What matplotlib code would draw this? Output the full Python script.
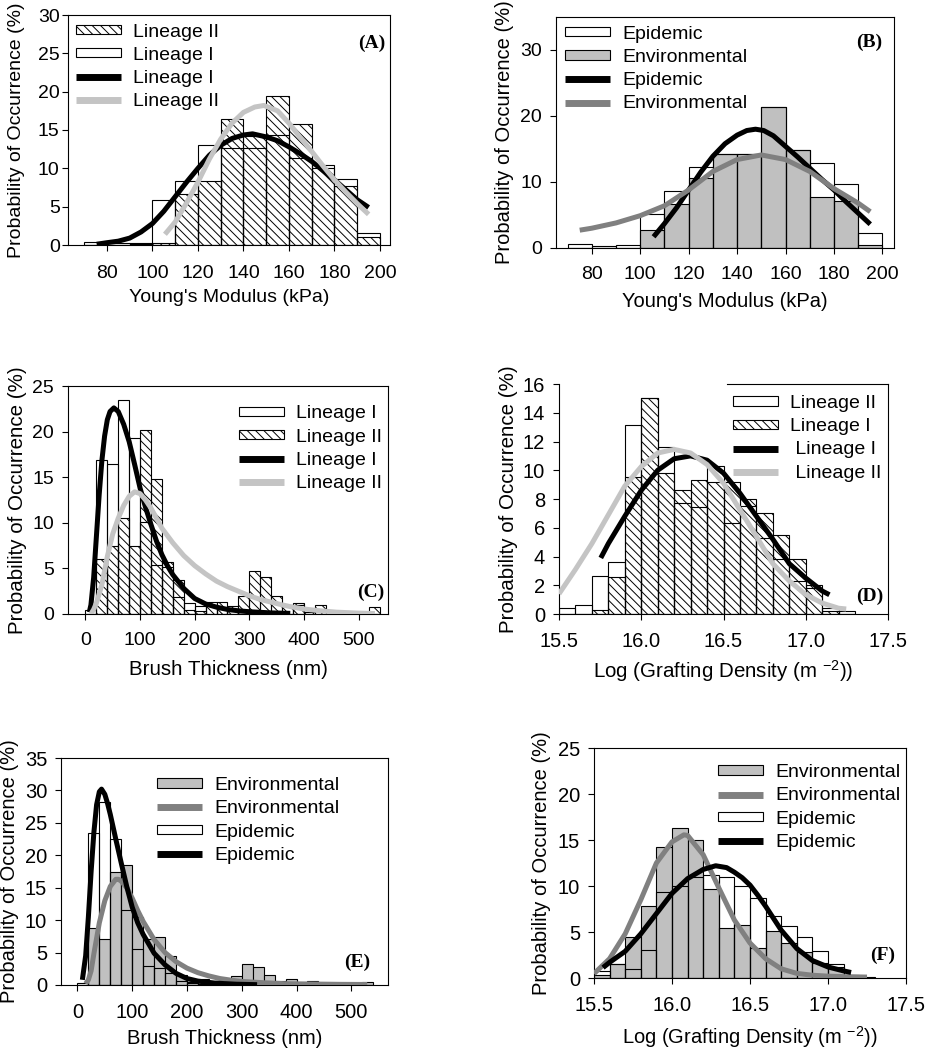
import matplotlib
matplotlib.use('Agg')
import matplotlib.pyplot as plt
from matplotlib.patches import Patch
from matplotlib.lines import Line2D

plt.rcParams['font.family'] = ['Liberation Sans', 'DejaVu Sans']
plt.rcParams['hatch.linewidth'] = 0.7
plt.rcParams['mathtext.fontset'] = 'custom'
plt.rcParams['mathtext.rm'] = 'Liberation Sans'
plt.rcParams['mathtext.it'] = 'Liberation Sans:italic'

# ---------------- data ----------------
# (A) Young's modulus, lineage I (open) / lineage II (hatched)
ym_bins = [70, 80, 90, 100, 110, 120, 130, 140, 150, 160, 170, 180, 190]
a_lin1 = [0.4, 0.2, 0.2, 5.9, 8.4, 13.1, 12.6, 12.7, 14.3, 11.4, 10.4, 8.6, 1.6]
a_lin2 = [0.0, 0.0, 0.1, 0.2, 6.6, 8.4, 16.4, 14.2, 19.5, 15.8, 10.1, 7.7, 1.0]
a_fit1_x = [75.5, 80, 85, 90, 95, 100, 105, 110, 115, 120, 125, 130, 135, 140, 144,
            150, 155, 160, 165, 170, 175, 180, 185, 190, 195]
a_fit1_y = [0.1, 0.3, 0.5, 0.9, 1.7, 2.8, 4.4, 6.3, 8.2, 10.0, 11.7, 13.0, 13.9, 14.35, 14.5,
            14.1, 13.6, 12.8, 11.9, 10.9, 9.7, 8.5, 7.2, 5.9, 4.9]
a_fit2_x = [105.5, 110, 115, 120, 125, 130, 135, 140, 145, 149, 155, 160, 165, 170, 175,
            180, 185, 190, 195]
a_fit2_y = [1.4, 3.0, 5.5, 8.2, 11.2, 13.8, 15.9, 17.3, 18.0, 18.2, 17.5, 15.9, 14.0, 12.2, 10.3,
            8.5, 6.9, 5.4, 4.0]

# (B) Young's modulus, epidemic (open) / environmental (grey)
b_epi = [0.6, 0.3, 0.4, 5.2, 8.7, 12.3, 14.2, 14.2, 21.4, 14.9, 12.85, 9.7, 2.3]
b_env = [0.0, 0.0, 0.0, 2.8, 6.6, 10.6, 14.2, 14.2, 21.4, 14.9, 7.8, 7.1, 0.4]
b_fit_epi_x = [105.5, 110, 115, 120, 125, 130, 135, 140, 144, 147.6, 151, 155, 160, 165, 170,
               175, 180, 185, 190, 195]
b_fit_epi_y = [1.7, 3.7, 6.1, 8.8, 11.5, 13.9, 15.8, 17.1, 17.8, 18.0, 17.8, 17.0, 15.4, 13.8,
               12.1, 10.4, 8.8, 7.0, 5.3, 3.6]
b_fit_env_x = [75, 80, 90, 100, 110, 120, 130, 140, 150, 160, 170, 180, 190, 195]
b_fit_env_y = [2.7, 3.0, 3.8, 4.9, 6.4, 8.8, 11.6, 13.4, 14.1, 13.4, 11.6, 9.0, 6.8, 5.5]

# (C) brush thickness, lineage I (open) / lineage II (hatched)
bt_bins = [0, 20, 40, 60, 80, 100, 120, 140, 160, 180, 200, 220, 240, 260, 280, 300,
           320, 340, 360, 380, 400, 420, 440, 460, 480, 500, 520]
c_lin1 = [0.4, 16.9, 16.4, 23.5, 19.3, 10.1, 5.4, 5.2, 1.9, 1.25, 0.9, 1.0, 0.5, 0.3, 0.2, 0.0,
          0.0, 0.0, 0.0, 1.0, 0.0, 0.0, 0.0, 0.0, 0.0, 0.0, 0.0]
c_lin2 = [0.0, 6.0, 7.5, 10.5, 7.5, 20.2, 14.8, 5.7, 3.7, 0.4, 0.3, 1.3, 1.3, 0.9, 2.0, 4.7,
          4.1, 2.0, 1.0, 1.2, 0.2, 1.0, 0.2, 0.0, 0.0, 0.0, 0.8]
c_fit1_x = [7, 10, 15, 20, 25, 30, 35, 40, 45, 52, 60, 70, 80, 90, 100, 110, 120, 130, 140,
            150, 160, 180, 200, 220, 240, 260, 280, 300, 340, 375]
c_fit1_y = [0.2, 1.0, 4.0, 8.5, 13.0, 16.8, 19.5, 21.3, 22.2, 22.6, 22.2, 20.8, 18.9, 16.4, 13.8,
            11.7, 9.8, 8.0, 6.5, 5.3, 4.3, 2.8, 1.7, 1.1, 0.75, 0.5, 0.35, 0.25, 0.12, 0.07]
c_fit2_x = [10, 15, 20, 30, 40, 50, 60, 70, 80, 90, 100, 110, 120, 140, 160, 180, 200, 220,
            240, 260, 280, 300, 320, 340, 360, 380, 400, 430, 460, 500, 530]
c_fit2_y = [0.0, 0.5, 1.2, 3.2, 6.3, 8.8, 10.5, 11.9, 12.9, 13.4, 13.2, 12.5, 11.6, 9.4, 7.8,
            6.4, 5.3, 4.4, 3.6, 3.0, 2.5, 2.0, 1.6, 1.3, 1.0, 0.75, 0.55, 0.35, 0.2, 0.1, 0.05]

# (D) log grafting density, lineage II (open) / lineage I (hatched)
gd_bins = [15.5, 15.6, 15.7, 15.8, 15.9, 16.0, 16.1, 16.2, 16.3, 16.4, 16.5, 16.6, 16.7,
           16.8, 16.9, 17.0, 17.1, 17.2]
d_lin2 = [0.42, 0.6, 2.66, 3.6, 13.15, 15.0, 11.65, 7.7, 7.45, 10.3, 6.3, 7.5, 5.3, 3.8,
          2.3, 1.8, 0.4, 0.2]
d_lin1 = [0.0, 0.0, 0.3, 2.55, 9.5, 15.0, 9.8, 8.6, 9.3, 9.2, 9.15, 8.0, 7.0, 5.5, 3.85,
          2.0, 0.2, 0.0]
d_fit1_x = [15.754, 15.8, 15.9, 16.0, 16.1, 16.2, 16.3, 16.4, 16.5, 16.6, 16.7, 16.8, 16.9,
            17.0, 17.1, 17.144]
d_fit1_y = [3.9, 4.9, 6.8, 8.6, 10.0, 10.8, 11.0, 10.7, 9.8, 8.4, 6.8, 5.2, 3.5, 2.5, 1.6, 1.34]
d_fit2_x = [15.5, 15.6, 15.7, 15.8, 15.9, 16.0, 16.1, 16.2, 16.3, 16.4, 16.5, 16.6, 16.7,
            16.8, 16.9, 17.0, 17.1, 17.2, 17.246]
d_fit2_y = [1.4, 3.1, 4.9, 6.9, 8.9, 10.25, 11.2, 11.45, 11.2, 10.4, 9.1, 7.25, 5.4, 3.5,
            2.3, 1.35, 0.76, 0.4, 0.35]

# (E) brush thickness, environmental (grey) / epidemic (open)
e_env = [0.0, 8.75, 7.05, 17.35, 18.5, 10.55, 7.05, 7.35, 4.4, 1.5, 0.5, 0.9, 0.6, 0.5, 1.4,
         3.2, 2.8, 1.5, 0.6, 0.9, 0.25, 0.6, 0.2, 0.1, 0.1, 0.1, 0.5]
e_epi = [0.3, 23.4, 28.2, 22.5, 11.5, 5.5, 2.9, 2.6, 1.8, 0.6, 0.3, 0.2, 0.1, 0.0, 0.0, 0.0,
         0.0, 0.0, 0.0, 0.0, 0.0, 0.0, 0.0, 0.0, 0.0, 0.0, 0.0]
e_fit_epi_x = [9, 15, 20, 25, 30, 35, 40, 44, 50, 55, 60, 70, 80, 90, 100, 110, 120, 140, 160,
               180, 200, 220, 250, 290, 328]
e_fit_epi_y = [0.8, 4.5, 10.5, 17.5, 23.5, 27.8, 29.8, 30.2, 29.4, 28.0, 26.3, 22.5, 18.8, 15.2,
               12.0, 9.6, 7.8, 4.9, 3.1, 1.8, 1.0, 0.6, 0.3, 0.12, 0.05]
e_fit_env_x = [15, 20, 25, 30, 40, 50, 60, 70, 75, 80, 90, 100, 110, 120, 140, 160, 180, 200,
               220, 240, 260, 280, 300, 340, 380, 430, 480, 529]
e_fit_env_y = [0.2, 0.8, 2.2, 4.8, 9.6, 13.0, 15.2, 16.3, 16.3, 16.0, 15.0, 13.4, 11.5, 9.8,
               7.0, 5.0, 3.6, 2.6, 1.9, 1.4, 1.0, 0.75, 0.55, 0.35, 0.2, 0.15, 0.1, 0.08]

# (F) log grafting density, environmental (grey) / epidemic (open)
f_env = [0.3, 1.56, 4.5, 7.8, 14.2, 16.3, 15.0, 9.7, 5.4, 5.8, 3.3, 5.1, 3.8, 2.8, 1.6, 1.2,
         0.35, 0.15]
f_epi = [0.8, 1.5, 1.0, 3.0, 9.3, 10.0, 11.0, 11.2, 11.0, 10.0, 8.75, 6.7, 5.6, 4.5, 2.9,
         1.57, 0.2, 0.0]
f_fit_env_x = [15.5, 15.6, 15.7, 15.8, 15.9, 16.0, 16.076, 16.1, 16.2, 16.3, 16.4, 16.5, 16.6,
               16.7, 16.8, 16.9, 17.0, 17.1, 17.25]
f_fit_env_y = [0.47, 2.1, 4.8, 8.5, 12.5, 14.8, 15.56, 15.5, 13.4, 9.8, 6.3, 3.8, 2.1, 1.0,
               0.5, 0.3, 0.2, 0.15, 0.1]
f_fit_epi_x = [15.558, 15.6, 15.7, 15.8, 15.9, 16.0, 16.1, 16.2, 16.28, 16.35, 16.4, 16.45,
               16.5, 16.55, 16.6, 16.7, 16.8, 16.9, 17.0, 17.1, 17.148]
f_fit_epi_y = [1.13, 1.7, 2.9, 4.8, 7.0, 9.2, 10.8, 11.8, 12.2, 12.0, 11.5, 10.9, 10.1, 9.0,
               7.8, 5.2, 3.2, 1.9, 1.2, 0.77, 0.6]

# ---------------- styles ----------------
HATCH = '\\\\\\\\'
BAR_GREY = '#c0c0c0'
LIGHT_LINE = '#c4c4c4'
MID_LINE = '#808080'
LW = 3.6
EDGE_LW = 0.8


def open_bars(ax, x, h, w):
    ax.bar(x, h, width=w, align='edge', facecolor='none', edgecolor='black',
           linewidth=EDGE_LW, zorder=3)


def hatch_bars(ax, x, h, w):
    ax.bar(x, h, width=w, align='edge', facecolor='none', edgecolor='black',
           hatch=HATCH, linewidth=EDGE_LW, zorder=3)


def grey_bars(ax, x, h, w):
    ax.bar(x, h, width=w, align='edge', facecolor=BAR_GREY, edgecolor='black',
           linewidth=EDGE_LW, zorder=2)


def fit_line(ax, x, y, c):
    ax.plot(x, y, color=c, lw=LW, solid_capstyle='butt', solid_joinstyle='round', zorder=4)


def h_open(label):
    return Patch(facecolor='white', edgecolor='black', linewidth=EDGE_LW, label=label)


def h_hatch(label):
    return Patch(facecolor='white', edgecolor='black', hatch=HATCH, linewidth=EDGE_LW, label=label)


def h_grey(label):
    return Patch(facecolor=BAR_GREY, edgecolor='black', linewidth=EDGE_LW, label=label)


def h_line(label, c):
    return Line2D([], [], color=c, lw=5, solid_capstyle='butt', label=label)


def style(ax, xlim, ylim, xticks, yticks, xlabel, tag, tagpos, leg, legpos,
          xfmt=None, xlab_y=-0.19, ylab_x=-0.13, fs_tick=14, fs_lab=14.5,
          xpad=9, ypad=6):
    ax.set_xlim(xlim)
    ax.set_ylim(ylim)
    ax.set_xticks(xticks)
    ax.set_yticks(yticks)
    if xfmt:
        ax.set_xticklabels([xfmt % t for t in xticks])
    ax.tick_params(direction='out', length=4, width=0.8, labelsize=fs_tick, top=False, right=False)
    ax.tick_params(axis='x', pad=xpad)
    ax.tick_params(axis='y', pad=ypad)
    for s in ax.spines.values():
        s.set_linewidth(0.8)
    ax.set_xlabel(xlabel, fontsize=fs_lab)
    ax.set_ylabel('Probability of Occurrence (%)', fontsize=fs_lab)
    ax.xaxis.set_label_coords(0.5, xlab_y)
    ax.yaxis.set_label_coords(ylab_x, 0.5)
    ax.text(tagpos[0], tagpos[1], tag, transform=ax.transAxes, ha='right', va='center',
            fontsize=14, fontweight='bold', family='Liberation Serif')
    ax.legend(handles=leg, loc='upper left', bbox_to_anchor=legpos, frameon=False,
              fontsize=14, handlelength=2.3, handleheight=0.36, handletextpad=0.65,
              labelspacing=0.32, borderpad=0, borderaxespad=0)


def pos(l, t, r, b):
    return [l / 925, 1 - b / 1050, (r - l) / 925, (b - t) / 1050]


fig = plt.figure(figsize=(9.25, 10.5), dpi=100)

# (A)
ax = fig.add_axes(pos(68, 15, 390, 245))
open_bars(ax, ym_bins, a_lin1, 10)
hatch_bars(ax, ym_bins, a_lin2, 10)
fit_line(ax, a_fit1_x, a_fit1_y, 'black')
fit_line(ax, a_fit2_x, a_fit2_y, LIGHT_LINE)
style(ax, (62.9, 204.4), (0, 30), [80, 100, 120, 140, 160, 180, 200], [0, 5, 10, 15, 20, 25, 30],
      "Young's Modulus (kPa)", '(A)', (0.985, 0.878),
      [h_hatch('Lineage II'), h_open('Lineage I'), h_line('Lineage I', 'black'),
       h_line('Lineage II', LIGHT_LINE)], (0.025, 0.963),
      xlab_y=-0.19, ylab_x=-0.132, fs_tick=14, fs_lab=14, xpad=10.5, ypad=2)

# (B)
ax = fig.add_axes(pos(556, 17, 894, 248))
grey_bars(ax, ym_bins, b_env, 10)
open_bars(ax, ym_bins, b_epi, 10)
fit_line(ax, b_fit_epi_x, b_fit_epi_y, 'black')
fit_line(ax, b_fit_env_x, b_fit_env_y, MID_LINE)
style(ax, (65.2, 204.8), (0, 35), [80, 100, 120, 140, 160, 180, 200], [0, 10, 20, 30],
      "Young's Modulus (kPa)", '(B)', (0.964, 0.89),
      [h_open('Epidemic'), h_grey('Environmental'), h_line('Epidemic', 'black'),
       h_line('Environmental', MID_LINE)], (0.027, 0.962),
      xlab_y=-0.19, ylab_x=-0.124, fs_tick=14, fs_lab=14.5)

# (C)
ax = fig.add_axes(pos(68, 386, 388, 614))
open_bars(ax, bt_bins, c_lin1, 20)
hatch_bars(ax, bt_bins, c_lin2, 20)
fit_line(ax, c_fit1_x, c_fit1_y, 'black')
fit_line(ax, c_fit2_x, c_fit2_y, LIGHT_LINE)
style(ax, (-32, 554), (0, 25), [0, 100, 200, 300, 400, 500], [0, 5, 10, 15, 20, 25],
      'Brush Thickness (nm)', '(C)', (0.99, 0.094),
      [h_open('Lineage I'), h_hatch('Lineage II'), h_line('Lineage I', 'black'),
       h_line('Lineage II', LIGHT_LINE)], (0.534, 0.915),
      xlab_y=-0.2, ylab_x=-0.128, fs_tick=14, fs_lab=14.8)

# (D)
ax = fig.add_axes(pos(559, 384, 888, 614))
open_bars(ax, gd_bins, d_lin2, 0.1)
hatch_bars(ax, gd_bins, d_lin1, 0.1)
fit_line(ax, d_fit1_x, d_fit1_y, 'black')
fit_line(ax, d_fit2_x, d_fit2_y, LIGHT_LINE)
style(ax, (15.5, 17.5), (0, 16), [15.5, 16.0, 16.5, 17.0, 17.5], [0, 2, 4, 6, 8, 10, 12, 14, 16],
      'Log (Grafting Density (m $^{-2}$))', '(D)', (0.985, 0.076),
      [h_open('Lineage II'), h_hatch('Lineage I'), h_line(' Lineage I', 'black'),
       h_line(' Lineage II', LIGHT_LINE)], (0.529, 0.952),
      xfmt='%.1f', xlab_y=-0.19, ylab_x=-0.125, fs_tick=14.5, fs_lab=14.8)
ax.spines['top'].set_bounds(16.52, 17.5)

# (E)
ax = fig.add_axes(pos(61, 758, 388, 985))
grey_bars(ax, bt_bins, e_env, 20)
open_bars(ax, bt_bins, e_epi, 20)
fit_line(ax, e_fit_env_x, e_fit_env_y, MID_LINE)
fit_line(ax, e_fit_epi_x, e_fit_epi_y, 'black')
style(ax, (-30, 567), (0, 35), [0, 100, 200, 300, 400, 500], [0, 5, 10, 15, 20, 25, 30, 35],
      'Brush Thickness (nm)', '(E)', (0.945, 0.099),
      [h_grey('Environmental'), h_line('Environmental', MID_LINE), h_open('Epidemic'),
       h_line('Epidemic', 'black')], (0.294, 0.916),
      xlab_y=-0.195, ylab_x=-0.128, fs_tick=14.5, fs_lab=14.5)

# (F)
ax = fig.add_axes(pos(594, 748, 906, 978))
grey_bars(ax, gd_bins, f_env, 0.1)
open_bars(ax, gd_bins, f_epi, 0.1)
fit_line(ax, f_fit_env_x, f_fit_env_y, MID_LINE)
fit_line(ax, f_fit_epi_x, f_fit_epi_y, 'black')
style(ax, (15.5, 17.5), (0, 25), [15.5, 16.0, 16.5, 17.0, 17.5], [0, 5, 10, 15, 20, 25],
      'Log (Grafting Density (m $^{-2}$))', '(F)', (0.965, 0.1),
      [h_grey('Environmental'), h_line('Environmental', MID_LINE), h_open('Epidemic'),
       h_line('Epidemic', 'black')], (0.397, 0.93),
      xfmt='%.1f', xlab_y=-0.2, ylab_x=-0.138, fs_tick=14.5, fs_lab=14.5)

fig.savefig('out.png', dpi=100)
